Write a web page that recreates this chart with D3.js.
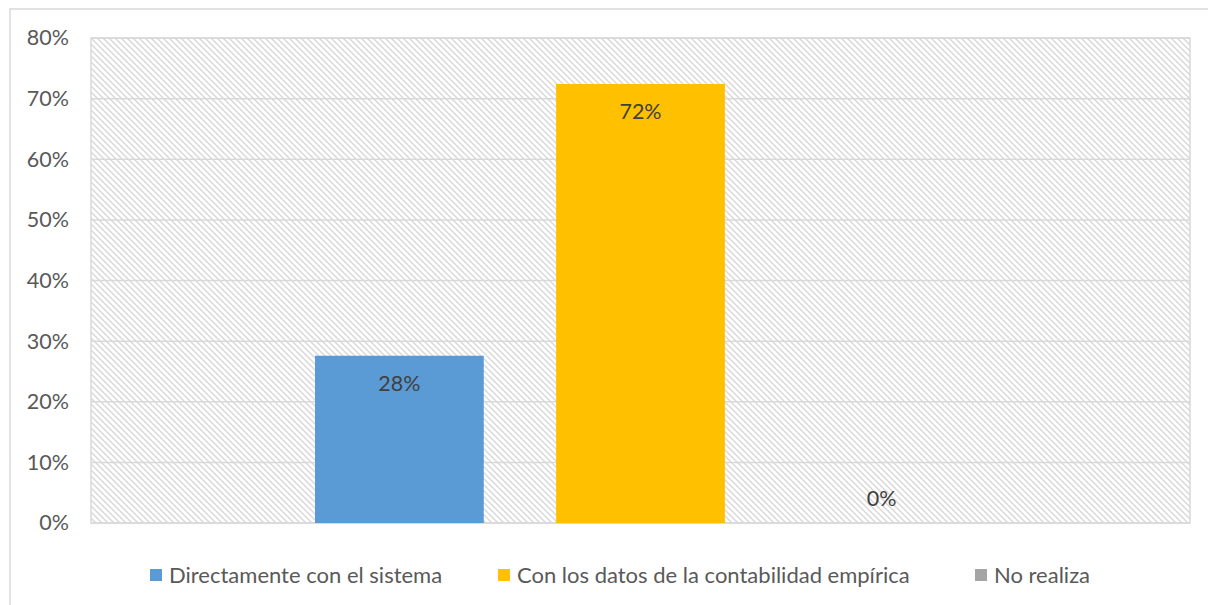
<!DOCTYPE html>
<html>
<head>
<meta charset="utf-8">
<script src="https://cdn.jsdelivr.net/npm/d3@7"></script>
<style>
  body { margin: 0; background: #fff; }
  svg { display: block; font-family: Lato, "Open Sans", sans-serif; }
</style>
</head>
<body>
<svg id="chart"></svg>
<script>
const series = ['Directamente con el sistema', 'Con los datos de la contabilidad empírica', 'No realiza'];
const values = [0.2759, 0.7241, 0];
const labels = ['28%', '72%', '0%'];
const colors = ['#5B9BD5', '#FFC000', '#A5A5A5'];
const yTicks = [0, 0.1, 0.2, 0.3, 0.4, 0.5, 0.6, 0.7, 0.8];

const width = 1208, height = 605;
const margin = {top: 38, right: 18, bottom: 82, left: 91};
const fontSize = '21.5px';
const legendFontSize = '22px';

const svg = d3.select('#chart')
  .attr('width', width)
  .attr('height', height);

// outer chart frame
svg.append('rect')
  .attr('x', 10).attr('y', 9)
  .attr('width', width + 20).attr('height', height + 20)
  .attr('fill', '#fff')
  .attr('stroke', '#d9d9d9')
  .attr('stroke-width', 1.5);

const defs = svg.append('defs');
const pat = defs.append('pattern')
  .attr('id', 'hatch')
  .attr('patternUnits', 'userSpaceOnUse')
  .attr('width', 6).attr('height', 6);
pat.append('rect').attr('width', 6).attr('height', 6).attr('fill', '#fff');
pat.append('path')
  .attr('d', 'M-1,-1 L7,7 M-1,5 L1,7 M5,-1 L7,1')
  .attr('stroke', '#d6d6d6')
  .attr('stroke-width', 1.3);

const innerW = width - margin.left - margin.right;
const innerH = height - margin.top - margin.bottom;

const y = d3.scaleLinear().domain([0, 0.8]).range([innerH, 0]);
const x = d3.scaleBand()
  .domain(series)
  .range([224, innerW - 224])
  .paddingInner(0.3);

const g = svg.append('g')
  .attr('transform', `translate(${margin.left},${margin.top})`);

g.append('rect')
  .attr('width', innerW).attr('height', innerH)
  .attr('fill', 'url(#hatch)');

// gridlines
g.append('g')
  .selectAll('line')
  .data(yTicks)
  .enter()
  .append('line')
    .attr('x1', 0).attr('x2', innerW)
    .attr('y1', d => y(d)).attr('y2', d => y(d))
    .attr('stroke', '#d9d9d9')
    .attr('stroke-width', 1.5);

g.append('rect')
  .attr('width', innerW).attr('height', innerH)
  .attr('fill', 'none')
  .attr('stroke', '#d9d9d9')
  .attr('stroke-width', 1.5);

// y axis labels
const yAxis = g.append('g')
  .call(d3.axisLeft(y).tickValues(yTicks).tickFormat(d3.format('.0%')).tickSize(0).tickPadding(22));
yAxis.select('.domain').remove();
yAxis.selectAll('text')
  .attr('fill', '#595959')
  .style('font-size', fontSize)
  .style('font-family', 'Lato, "Open Sans", sans-serif');

// bars
g.append('g')
  .selectAll('rect')
  .data(values)
  .enter()
  .append('rect')
    .attr('x', (d, i) => x(series[i]))
    .attr('y', d => y(d))
    .attr('width', x.bandwidth())
    .attr('height', d => innerH - y(d))
    .attr('fill', (d, i) => colors[i]);

// data labels (inside end; zero value sits just above the baseline)
g.append('g')
  .selectAll('text')
  .data(values)
  .enter()
  .append('text')
    .attr('x', (d, i) => x(series[i]) + x.bandwidth() / 2)
    .attr('y', d => d > 0 ? y(d) + 35 : y(d) - 17)
    .attr('text-anchor', 'middle')
    .attr('fill', '#404040')
    .style('font-size', fontSize)
    .text((d, i) => labels[i]);

// legend
const legendX = [150, 498, 975];
const legend = svg.append('g')
  .selectAll('g')
  .data(series)
  .enter()
  .append('g')
    .attr('transform', (d, i) => `translate(${legendX[i]},575)`);
legend.append('rect')
  .attr('x', 0).attr('y', -6)
  .attr('width', 12).attr('height', 12)
  .attr('fill', (d, i) => colors[i]);
legend.append('text')
  .attr('x', 19).attr('y', 8)
  .attr('fill', '#595959')
  .style('font-size', legendFontSize)
  .text(d => d);
</script>
</body>
</html>
